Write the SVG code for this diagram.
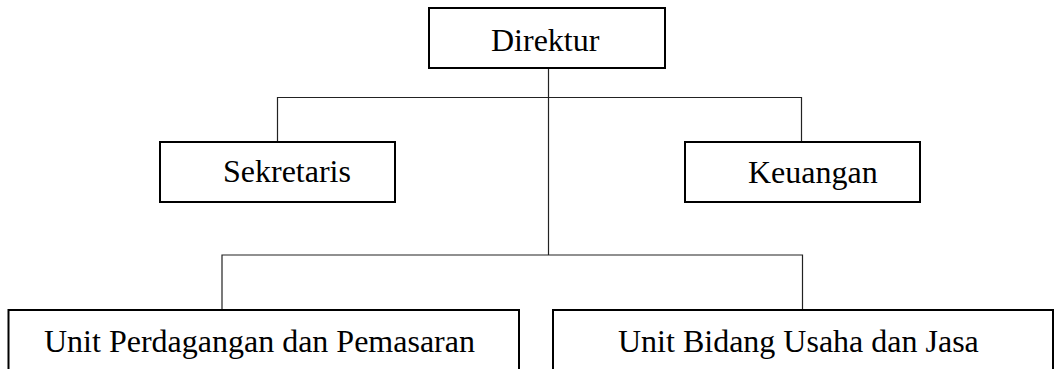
<svg xmlns="http://www.w3.org/2000/svg" width="1060" height="369" viewBox="0 0 1060 369">
<style>
.box{fill:#fff;stroke:#000;stroke-width:2}
.lbl{font-family:"Liberation Serif","Times New Roman",serif;font-size:32px;fill:#000}
.conn{fill:none;stroke:#222;stroke-width:1.2}
</style>
<rect width="1060" height="369" fill="#fff"/>
<g id="connectors">
<path class="conn" d="M548.5 69V255"/>
<path class="conn" d="M277.5 141V97.5H801.5V141"/>
<path class="conn" d="M222 309V255H802.5V309"/>
</g>
<g id="direktur">
<rect class="box" x="429" y="8" width="236" height="60"/>
<text class="lbl" x="491" y="51">Direktur</text>
</g>
<g id="sekretaris">
<rect class="box" x="160" y="142" width="235" height="60"/>
<text class="lbl" x="223" y="182">Sekretaris</text>
</g>
<g id="keuangan">
<rect class="box" x="685" y="142" width="235" height="60"/>
<text class="lbl" x="748" y="183">Keuangan</text>
</g>
<g id="unit-perdagangan">
<rect class="box" x="8.5" y="310" width="510.5" height="80"/>
<text class="lbl" x="44" y="352">Unit Perdagangan dan Pemasaran</text>
</g>
<g id="unit-bidang">
<rect class="box" x="553" y="310" width="500" height="80"/>
<text class="lbl" x="618" y="352">Unit Bidang Usaha dan Jasa</text>
</g>
</svg>
